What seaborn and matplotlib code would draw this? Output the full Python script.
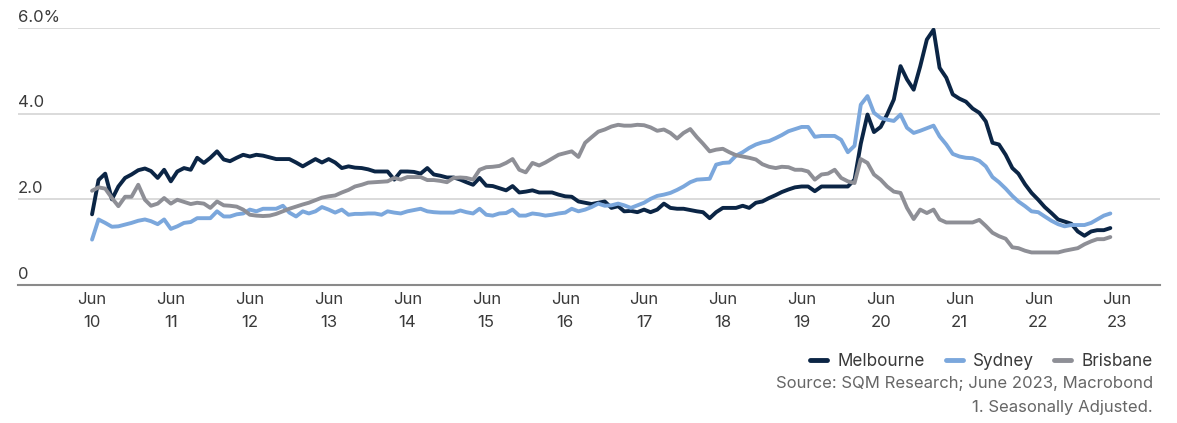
import matplotlib
matplotlib.use("Agg")
import matplotlib.pyplot as plt
import pandas as pd
import seaborn as sns

# Vacancy rate (%), monthly from Jun 2010
melbourne = [
    1.65, 2.45, 2.60, 2.00, 2.30, 2.50, 2.58, 2.68, 2.72, 2.66, 2.50, 2.69, 2.42,
    2.65, 2.73, 2.69, 2.97, 2.85, 2.97, 3.12, 2.93, 2.89, 2.97, 3.04, 3.00, 3.04,
    3.02, 2.98, 2.94, 2.94, 2.94, 2.86, 2.77, 2.85, 2.94, 2.86, 2.94, 2.86, 2.73,
    2.77, 2.74, 2.73, 2.70, 2.65, 2.65, 2.65, 2.46, 2.65, 2.65, 2.64, 2.60, 2.73,
    2.58, 2.55, 2.51, 2.51, 2.46, 2.40, 2.34, 2.50, 2.32, 2.31, 2.26, 2.21, 2.31,
    2.16, 2.18, 2.21, 2.16, 2.16, 2.16, 2.11, 2.07, 2.06, 1.95, 1.92, 1.89, 1.92,
    1.95, 1.80, 1.84, 1.72, 1.73, 1.70, 1.76, 1.70, 1.76, 1.90, 1.80, 1.78, 1.78,
    1.75, 1.72, 1.70, 1.56, 1.70, 1.80, 1.80, 1.80, 1.85, 1.80, 1.92, 1.95, 2.03,
    2.10, 2.17, 2.23, 2.28, 2.30, 2.30, 2.19, 2.30, 2.30, 2.30, 2.30, 2.30, 2.46,
    3.30, 3.98, 3.57, 3.69, 3.98, 4.33, 5.11, 4.80, 4.56, 5.10, 5.73, 5.96, 5.07,
    4.84, 4.45, 4.35, 4.28, 4.12, 4.02, 3.82, 3.32, 3.28, 3.04, 2.73, 2.60, 2.35,
    2.15, 1.99, 1.82, 1.68, 1.53, 1.48, 1.43, 1.25, 1.15, 1.25, 1.28, 1.28, 1.33,
]
sydney = [
    1.06, 1.53, 1.45, 1.36, 1.37, 1.41, 1.45, 1.50, 1.53, 1.49, 1.42, 1.53, 1.31,
    1.37, 1.45, 1.47, 1.56, 1.56, 1.56, 1.72, 1.60, 1.60, 1.65, 1.67, 1.76, 1.72,
    1.78, 1.78, 1.78, 1.85, 1.69, 1.60, 1.72, 1.67, 1.72, 1.82, 1.76, 1.69, 1.76,
    1.64, 1.66, 1.66, 1.67, 1.67, 1.64, 1.72, 1.69, 1.67, 1.72, 1.75, 1.78, 1.72,
    1.70, 1.69, 1.69, 1.69, 1.74, 1.70, 1.67, 1.78, 1.64, 1.62, 1.67, 1.68, 1.76,
    1.62, 1.62, 1.67, 1.65, 1.62, 1.64, 1.67, 1.69, 1.78, 1.72, 1.76, 1.82, 1.90,
    1.85, 1.86, 1.90, 1.86, 1.80, 1.86, 1.92, 2.01, 2.08, 2.11, 2.15, 2.22, 2.30,
    2.40, 2.46, 2.47, 2.48, 2.81, 2.85, 2.86, 3.02, 3.10, 3.20, 3.28, 3.33, 3.36,
    3.43, 3.50, 3.59, 3.64, 3.69, 3.69, 3.46, 3.48, 3.48, 3.48, 3.39, 3.10, 3.25,
    4.21, 4.41, 4.02, 3.90, 3.86, 3.83, 3.98, 3.67, 3.55, 3.60, 3.66, 3.72, 3.47,
    3.28, 3.06, 3.00, 2.97, 2.96, 2.90, 2.77, 2.52, 2.40, 2.25, 2.08, 1.95, 1.84,
    1.72, 1.70, 1.60, 1.50, 1.42, 1.37, 1.40, 1.40, 1.40, 1.45, 1.53, 1.62, 1.67,
]
brisbane = [
    2.20, 2.28, 2.25, 2.03, 1.84, 2.06, 2.06, 2.34, 1.99, 1.85, 1.90, 2.03, 1.90,
    1.99, 1.94, 1.89, 1.92, 1.90, 1.80, 1.95, 1.86, 1.85, 1.83, 1.76, 1.64, 1.62,
    1.61, 1.62, 1.66, 1.72, 1.78, 1.83, 1.88, 1.92, 1.98, 2.04, 2.07, 2.09, 2.16,
    2.22, 2.30, 2.34, 2.39, 2.40, 2.41, 2.42, 2.50, 2.46, 2.52, 2.52, 2.52, 2.45,
    2.45, 2.43, 2.40, 2.50, 2.51, 2.50, 2.46, 2.69, 2.75, 2.76, 2.78, 2.85, 2.94,
    2.69, 2.63, 2.85, 2.79, 2.86, 2.95, 3.04, 3.08, 3.12, 2.99, 3.32, 3.45, 3.58,
    3.63, 3.70, 3.74, 3.72, 3.72, 3.74, 3.73, 3.68, 3.60, 3.63, 3.55, 3.42, 3.55,
    3.64, 3.45, 3.30, 3.12, 3.16, 3.18, 3.10, 3.03, 3.00, 2.97, 2.93, 2.82, 2.76,
    2.73, 2.76, 2.75, 2.69, 2.69, 2.65, 2.46, 2.58, 2.60, 2.69, 2.50, 2.42, 2.38,
    2.94, 2.85, 2.58, 2.46, 2.30, 2.18, 2.15, 1.80, 1.54, 1.76, 1.68, 1.76, 1.53,
    1.46, 1.46, 1.46, 1.46, 1.46, 1.52, 1.38, 1.22, 1.14, 1.08, 0.88, 0.86, 0.80,
    0.76, 0.76, 0.76, 0.76, 0.76, 0.80, 0.83, 0.86, 0.95, 1.02, 1.07, 1.07, 1.12,
]

cities = ["Melbourne", "Sydney", "Brisbane"]
colors = ["#0b2545", "#7ba7dc", "#8e8f96"]
tick_years = list(range(2010, 2024))
y_ticks = [0, 2, 4, 6]
y_labels = ["0", "2.0", "4.0", "6.0%"]

dates = pd.date_range("2010-06-01", periods=len(melbourne), freq="MS")
df = pd.DataFrame({"date": dates, "Melbourne": melbourne,
                   "Sydney": sydney, "Brisbane": brisbane})
df = df.melt(id_vars="date", var_name="city", value_name="rate")

sns.set_style("white")
plt.rcParams["font.family"] = ["Inter", "DejaVu Sans"]

W, H = 1177, 423
fig = plt.figure(figsize=(W / 100, H / 100), dpi=100)
ax = fig.add_axes([18 / W, 1 - 285 / H, (1160 - 18) / W, (285 - 28) / H])

sns.lineplot(data=df, x="date", y="rate", hue="city", hue_order=cities,
             palette=colors, linewidth=2.8, ax=ax)

ax.set_xlim(pd.Timestamp("2009-06-23"), pd.Timestamp("2023-12-17"))
ax.set_ylim(0, 6)
ax.set_xlabel("")
ax.set_ylabel("")

# x axis: "Jun / yy"
ax.set_xticks([pd.Timestamp(f"{y}-06-01") for y in tick_years])
ax.set_xticklabels([f"Jun\n{str(y)[2:]}" for y in tick_years])
ax.tick_params(axis="x", length=0, pad=5, labelsize=12, labelcolor="#3a3a3a")
for t in ax.get_xticklabels():
    t.set_linespacing(1.7)

# y axis: labels sit above the gridlines on the left
ax.set_yticks(y_ticks)
ax.tick_params(axis="y", length=0, labelleft=False)
for v, lab in zip(y_ticks, y_labels):
    ax.annotate(lab, xy=(0, v), xycoords=("axes fraction", "data"),
                xytext=(0, 4.5), textcoords="offset points",
                ha="left", va="baseline", fontsize=12, color="#3a3a3a")

ax.grid(axis="y", color="#d4d4d4", linewidth=1.2)
ax.set_axisbelow(True)
for s in ["left", "right", "top"]:
    ax.spines[s].set_visible(False)
ax.spines["bottom"].set_color("#8a8a8a")
ax.spines["bottom"].set_linewidth(1.5)

sns.move_legend(ax, "center right", bbox_to_anchor=(1153 / W, 1 - 361 / H),
                bbox_transform=fig.transFigure, ncol=3, title=None,
                frameon=False, handlelength=1.0, handletextpad=0.6,
                columnspacing=1.2, fontsize=12.3, borderaxespad=0, borderpad=0)
leg = ax.get_legend()
for h in leg.legend_handles:
    h.set_linewidth(3.5)
for t in leg.get_texts():
    t.set_color("#3a3a3a")

fig.text(1153 / W, 1 - 388 / H, "Source: SQM Research; June 2023, Macrobond",
         ha="right", va="baseline", fontsize=12, color="#666666")
fig.text(1153 / W, 1 - 412 / H, "1. Seasonally Adjusted.",
         ha="right", va="baseline", fontsize=12, color="#666666")

fig.savefig("out.png", dpi=100)
plt.close(fig)
